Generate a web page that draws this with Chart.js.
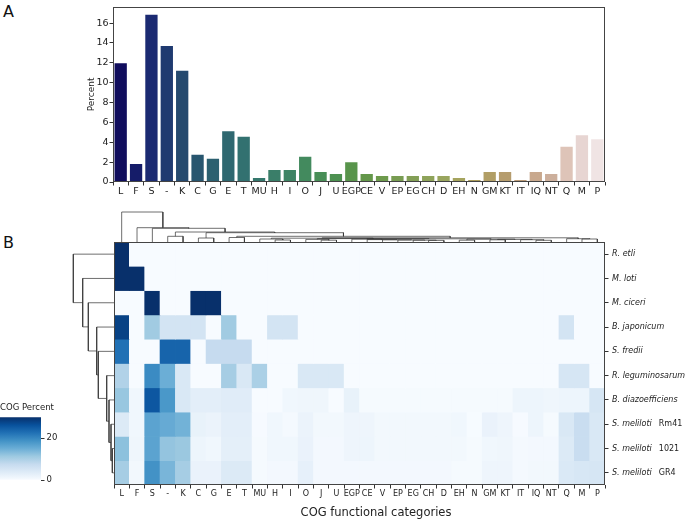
<!DOCTYPE html>
<html>
<head>
<meta charset="utf-8">
<script src="https://cdn.jsdelivr.net/npm/chart.js@4.4.0/dist/chart.umd.min.js"></script>
<style>
  body { margin: 0; background: #fff; }
  #fig { position: relative; width: 685px; height: 520px; overflow: hidden; font-family: 'DejaVu Sans', sans-serif; }
  #fig canvas { position: absolute; }
  .panel { position: absolute; font-size: 16px; line-height: 19px; color: #111; }
</style>
</head>
<body>
<div id="fig">
  <div class="panel" style="left:3px; top:2px;">A</div>
  <div class="panel" style="left:3px; top:233px;">B</div>
  <canvas id="bars" width="685" height="205" style="left:0; top:0;"></canvas>
  <canvas id="heat" width="685" height="320" style="left:0; top:200px;"></canvas>
  <canvas id="colTree" width="491" height="34" style="left:114px; top:208px;"></canvas>
  <canvas id="rowTree" width="44" height="243" style="left:70px; top:242px;"></canvas>
  <canvas id="cbar" width="70" height="90" style="left:0; top:400px;"></canvas>
</div>
<script>
// COG categories, same order in both panels
const categories = ['L', 'F', 'S', '-', 'K', 'C', 'G', 'E', 'T', 'MU', 'H', 'I', 'O', 'J', 'U', 'EGP', 'CE', 'V',
	'EP', 'EG', 'CH', 'D', 'EH', 'N', 'GM', 'KT', 'IT', 'IQ', 'NT', 'Q', 'M', 'P'];

// panel A
const percent = [11.95, 1.8, 16.85, 13.7, 11.2, 2.75, 2.35, 5.1, 4.55, 0.4, 1.2, 1.2, 2.55, 1.0, 0.8, 2.0, 0.8, 0.6,
	0.6, 0.6, 0.6, 0.6, 0.4, 0.2, 1.0, 1.0, 0.2, 1.0, 0.8, 3.55, 4.7, 4.3];
const yTicks = [0, 2, 4, 6, 8, 10, 12, 14, 16];

// panel B
const species = ['R. etli', 'M. loti', 'M. ciceri', 'B. japonicum', 'S. fredii', 'R. leguminosarum',
	'B. diazoefficiens', 'S. meliloti', 'S. meliloti', 'S. meliloti'];
const strains = ['', '', '', '', '', '', '', 'Rm41', '1021', 'GR4'];
const heatValues = [
	// R. etli
	[50, 0, 0, 0, 0, 0, 0, 0, 0, 0, 0, 0, 0, 0, 0, 0, 0, 0, 0, 0, 0, 0, 0, 0, 0, 0, 0, 0, 0, 0, 0, 0],
	// M. loti
	[50, 50, 0, 0, 0, 0, 0, 0, 0, 0, 0, 0, 0, 0, 0, 0, 0, 0, 0, 0, 0, 0, 0, 0, 0, 0, 0, 0, 0, 0, 0, 0],
	// M. ciceri
	[0, 0, 33.3, 0, 0, 33.3, 33.3, 0, 0, 0, 0, 0, 0, 0, 0, 0, 0, 0, 0, 0, 0, 0, 0, 0, 0, 0, 0, 0, 0, 0, 0, 0],
	// B. japonicum
	[28, 0, 11, 5.5, 5.5, 5.5, 0, 11, 0, 0, 5.5, 5.5, 0, 0, 0, 0, 0, 0, 0, 0, 0, 0, 0, 0, 0, 0, 0, 0, 0, 5.5, 0, 0],
	// S. fredii
	[22.5, 0, 0, 24, 24, 0, 7.5, 7.5, 7.5, 0, 0, 0, 0, 0, 0, 0, 0, 0, 0, 0, 0, 0, 0, 0, 0, 0, 0, 0, 0, 0, 0, 0],
	// R. leguminosarum
	[9.5, 0, 19.5, 15, 4.5, 0, 0, 10.5, 4.5, 10, 0, 0, 4.5, 4.5, 4.5, 0, 0, 0, 0, 0, 0, 0, 0, 0, 0, 0, 0, 0, 0, 5, 5, 0],
	// B. diazoefficiens
	[11.7, 1, 25.5, 18, 4.5, 3, 3, 3.5, 3.5, 0, 0, 1, 1.2, 1.2, 0, 2.2, 0.3, 0.3, 0.3, 0.3, 0.3, 0.3, 0.3, 0.3, 0.3, 0.3,
		1.5, 1.5, 1.2, 1.5, 1.5, 5],
	// S. meliloti Rm41
	[4, 1, 16.5, 15.5, 14.5, 2.2, 1.8, 3, 3, 0.2, 1, 0.5, 1.8, 0.8, 0.8, 1.3, 1.3, 0.8, 0.8, 0.8, 0.8, 0.8, 1, 0.1, 2,
		1.3, 0.2, 1.5, 0.3, 4.5, 7, 4.5],
	// S. meliloti 1021
	[12.5, 1.2, 16.5, 12, 11.5, 1.5, 1, 2.8, 2.8, 0.3, 1, 1, 2, 0.6, 0.6, 1.3, 1.5, 0.8, 0.8, 0.8, 0.8, 0.8, 0.8, 0.3, 1,
		1.2, 0.4, 0.6, 0.6, 4, 7, 4.5],
	// S. meliloti GR4
	[10.5, 0.8, 18.7, 14, 10.5, 2, 2, 4, 4, 0.3, 0.6, 0.6, 2.5, 0.6, 0.6, 0.6, 0.6, 0.6, 0.6, 0.6, 0.6, 0.6, 0.3, 0.3,
		1.3, 1.3, 0.4, 0.8, 0.8, 4.3, 4.8, 5],
];
const cbarMax = 30;
const cbarTicks = [0, 20];

// clustering trees: [left, right, merge height], numbers are leaf indices
const rowTreeData = [0, [1, [2, [3, [4, [5, [6, [7, [8, 9, 1.7], 3], 5], 7.3], 15.7], 17.3], 25.7], 31.3], 40.7];
const tailTree = [[15, [16, [17, [18, [19, [20, 21, 1.6], 1.8], 2.0], 2.2], 2.4], 2.8],
	[[22, 23, 1.8], [[24, 25, 2.2], [26, [27, 28, 1.7], 2.3], 2.6], 2.9], 3.2];
const colTreeData = [0, [1, [2, [[3, 4, 5.7], [[5, 6, 4], [[7, 8, 4.5],
	[[[9, [10, 11, 2.0], 3.0], [[12, [13, 14, 1.8], 2.6], tailTree, 3.4], 3.8], [29, [30, 31, 3.0], 3.3], 4.2],
	5.7], 9.3], 10], 13.7], 14.3], 30];

const barColors = ['#100d5d', '#151c69', '#1b2a72', '#1f3a70', '#25496e', '#28566f', '#2b6070', '#2f6870', '#327170',
	'#35786d', '#3a7e69', '#3e8464', '#438a5e', '#488e57', '#4d9151', '#58944b', '#64974a', '#6d9a4c', '#789c52',
	'#839f56', '#8ea35a', '#99a55e', '#a5a45e', '#aa9c5c', '#b19e65', '#b59c6d', '#bb9b78', '#c8a88d', '#ccaf9c',
	'#dec4b8', '#e7d5d2', '#f0e4e4'];
const bluesStops = ['#f7fbff', '#deebf7', '#c6dbef', '#9ecae1', '#6baed6', '#4292c6', '#2171b5', '#08519c', '#08306b'];

Chart.defaults.font.family = "'DejaVu Sans', sans-serif";
Chart.defaults.color = '#222';

function hexToRgb(h) {
	return [1, 3, 5].map((i) => parseInt(h.slice(i, i + 2), 16));
}

function blues(v) {
	let t = Math.min(Math.max(v / cbarMax, 0), 1) * (bluesStops.length - 1);
	let i = Math.min(Math.floor(t), bluesStops.length - 2);
	let f = t - i;
	let a = hexToRgb(bluesStops[i]);
	let b = hexToRgb(bluesStops[i + 1]);
	let c = a.map((x, k) => Math.round(x + (b[k] - x) * f));
	return `rgb(${c[0]},${c[1]},${c[2]})`;
}

// walk a tree and collect the U shaped links
function treeLinks(node, links) {
	if (typeof node === 'number') return { pos: node + 0.5, h: 0 };
	let a = treeLinks(node[0], links);
	let b = treeLinks(node[1], links);
	let h = node[2];
	links.push([[a.pos, a.h], [a.pos, h], [b.pos, h], [b.pos, b.h]]);
	return { pos: (a.pos + b.pos) / 2, h: h };
}

const frame = {
	id: 'frame',
	afterDraw(chart) {
		const { ctx, chartArea: a } = chart;
		ctx.save();
		ctx.strokeStyle = '#444';
		ctx.lineWidth = 1;
		ctx.strokeRect(Math.round(a.left) + 0.5, Math.round(a.top) + 0.5,
			Math.round(a.right - a.left) - 1, Math.round(a.bottom - a.top) - 1);
		ctx.restore();
	},
};

const tickGrid = { drawOnChartArea: false, tickLength: 3.5, color: '#333' };
const noEvents = { legend: { display: false }, tooltip: { enabled: false } };

// panel A bars
new Chart(document.getElementById('bars'), {
	type: 'bar',
	data: {
		labels: categories,
		datasets: [{ data: percent, backgroundColor: barColors, barPercentage: 0.8, categoryPercentage: 1 }],
	},
	options: {
		responsive: false,
		animation: false,
		devicePixelRatio: 1,
		events: [],
		layout: { padding: { left: 0, right: 80, top: 1, bottom: 0 } },
		plugins: noEvents,
		scales: {
			x: {
				grid: tickGrid,
				border: { display: false },
				ticks: { font: { size: 9.5 }, padding: 0, autoSkip: false, maxRotation: 0 },
				afterFit: (s) => { s.height = 23; },
			},
			y: {
				min: 0,
				max: 17.65,
				afterBuildTicks: (s) => { s.ticks = yTicks.map((v) => ({ value: v })); },
				grid: tickGrid,
				border: { display: false },
				ticks: { font: { size: 9.5 }, padding: 1 },
				title: { display: true, text: 'Percent', font: { size: 9 }, padding: { top: 86, bottom: 0 } },
				afterFit: (s) => { s.width = 113; },
			},
		},
	},
	plugins: [frame],
});

// row labels, species in italics and strain upright
const rowLabels = {
	id: 'rowLabels',
	afterDraw(chart) {
		const { ctx, chartArea } = chart;
		const y = chart.scales.y;
		ctx.save();
		ctx.fillStyle = '#222';
		ctx.textBaseline = 'middle';
		ctx.textAlign = 'left';
		species.forEach((name, i) => {
			let py = y.getPixelForValue(i + 0.5);
			let px = chartArea.right + 7;
			ctx.font = "italic 8px 'DejaVu Sans'";
			ctx.fillText(name, px, py);
			if (strains[i]) {
				let w = ctx.measureText(name).width;
				ctx.font = "8px 'DejaVu Sans'";
				ctx.fillText(strains[i], px + w + 7, py);
			}
		});
		ctx.font = "11.5px 'DejaVu Sans'";
		ctx.textAlign = 'center';
		ctx.fillText('COG functional categories', 376, 313);
		ctx.restore();
	},
};

// panel B heatmap, one floating bar dataset per genome
new Chart(document.getElementById('heat'), {
	type: 'bar',
	data: {
		labels: categories,
		datasets: heatValues.map((row, r) => ({
			data: row.map(() => [r, r + 1]),
			backgroundColor: row.map(blues),
			grouped: false,
			barPercentage: 1,
			categoryPercentage: 1,
			borderWidth: 0,
		})),
	},
	options: {
		responsive: false,
		animation: false,
		devicePixelRatio: 1,
		events: [],
		layout: { padding: { left: 114, top: 42, right: 0, bottom: 0 } },
		plugins: noEvents,
		scales: {
			x: {
				grid: tickGrid,
				border: { display: false },
				ticks: { font: { size: 8 }, padding: 1, autoSkip: false, maxRotation: 0 },
				afterFit: (s) => { s.height = 35; },
			},
			y: {
				position: 'right',
				min: 0,
				max: species.length,
				reverse: true,
				afterBuildTicks: (s) => { s.ticks = species.map((_, i) => ({ value: i + 0.5 })); },
				grid: tickGrid,
				border: { display: false },
				ticks: { display: false },
				afterFit: (s) => { s.width = 80; },
			},
		},
	},
	plugins: [frame, rowLabels],
});

function dendrogram(canvasId, tree, horizontal, xRange, yRange) {
	let links = [];
	treeLinks(tree, links);
	new Chart(document.getElementById(canvasId), {
		type: 'scatter',
		data: {
			datasets: links.map((l) => ({
				data: l.map((p) => (horizontal ? { x: p[1], y: p[0] } : { x: p[0], y: p[1] })),
				showLine: true,
				pointRadius: 0,
				borderWidth: 1,
				borderColor: 'rgba(50,50,50,0.7)',
				clip: false,
			})),
		},
		options: {
			responsive: false,
			animation: false,
			devicePixelRatio: 1,
			events: [],
			layout: { padding: 0 },
			plugins: noEvents,
			scales: {
				x: { display: false, min: xRange[0], max: xRange[1], reverse: horizontal },
				y: { display: false, min: yRange[0], max: yRange[1], reverse: horizontal },
			},
		},
	});
}

dendrogram('colTree', colTreeData, false, [0, categories.length], [0, 34]);
dendrogram('rowTree', rowTreeData, true, [0, 44], [0, species.length]);

// colour bar
new Chart(document.getElementById('cbar'), {
	type: 'bar',
	data: {
		labels: [''],
		datasets: [{
			data: [[0, cbarMax]],
			backgroundColor: (c) => {
				const area = c.chart.chartArea;
				if (!area) return bluesStops[0];
				const g = c.chart.ctx.createLinearGradient(0, area.bottom, 0, area.top);
				bluesStops.forEach((col, i) => g.addColorStop(i / (bluesStops.length - 1), col));
				return g;
			},
			barPercentage: 1,
			categoryPercentage: 1,
			borderWidth: 0,
		}],
	},
	options: {
		responsive: false,
		animation: false,
		devicePixelRatio: 1,
		events: [],
		layout: { padding: { left: 0, right: 0, top: 0, bottom: 10 } },
		plugins: {
			legend: { display: false },
			tooltip: { enabled: false },
			title: {
				display: true,
				text: 'COG Percent',
				align: 'start',
				color: '#222',
				font: { size: 8.5, weight: 'normal' },
				padding: { top: 3, bottom: 4 },
			},
		},
		scales: {
			x: { display: false },
			y: {
				position: 'right',
				min: 0,
				max: cbarMax,
				afterBuildTicks: (s) => { s.ticks = cbarTicks.map((v) => ({ value: v })); },
				grid: tickGrid,
				border: { display: false },
				ticks: { font: { size: 8.5 }, padding: 2 },
				afterFit: (s) => { s.width = 29; },
			},
		},
	},
});
</script>
</body>
</html>
